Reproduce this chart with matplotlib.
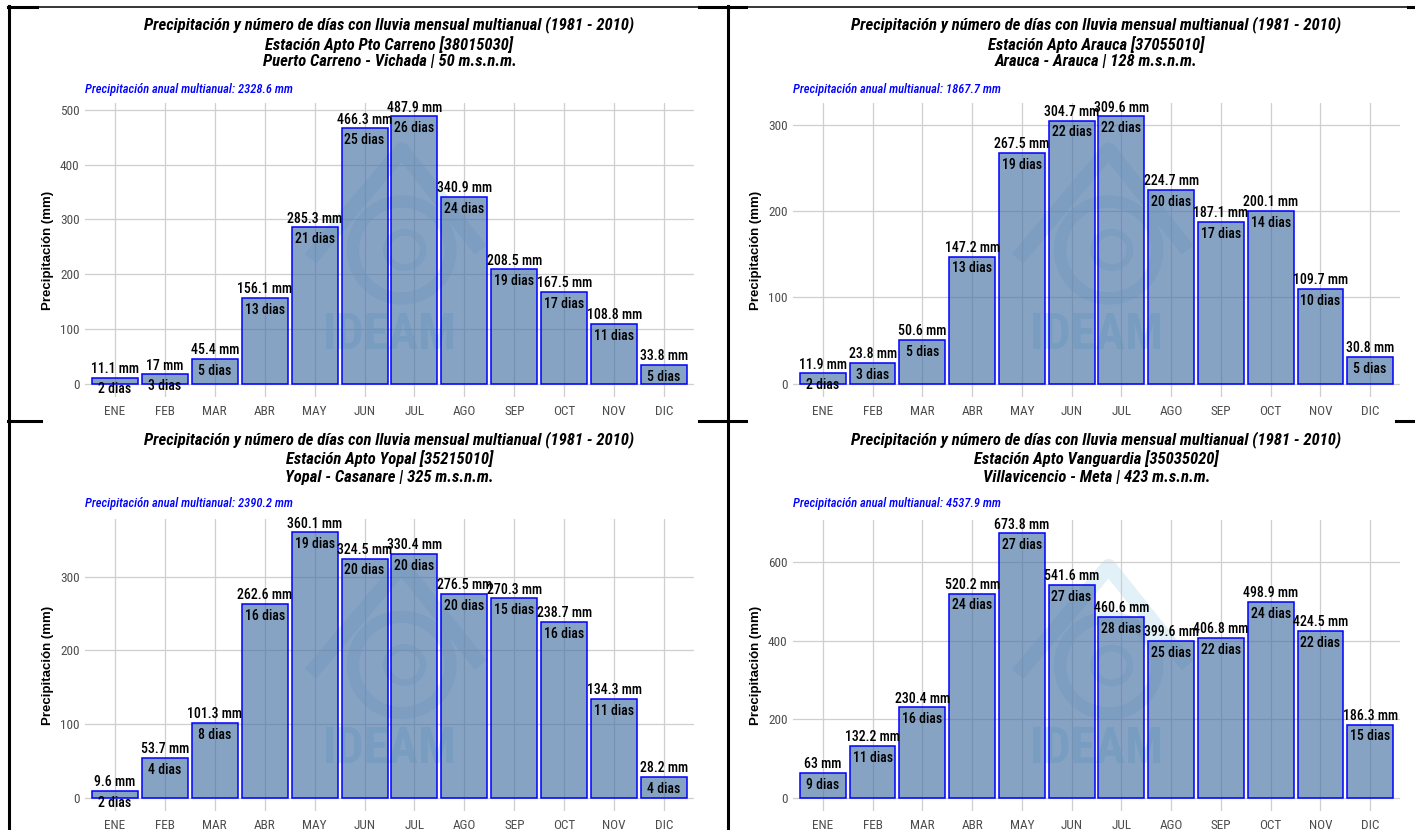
import numpy as np
import matplotlib
matplotlib.use("Agg")
from matplotlib import pyplot as plt
from matplotlib.lines import Line2D
from matplotlib.patches import Ellipse
from matplotlib.ticker import MultipleLocator
from matplotlib import font_manager

# Data
months = ['ENE', 'FEB', 'MAR', 'ABR', 'MAY', 'JUN', 'JUL', 'AGO', 'SEP', 'OCT', 'NOV', 'DIC']

carreno_mm = [11.1, 17, 45.4, 156.1, 285.3, 466.3, 487.9, 340.9, 208.5, 167.5, 108.8, 33.8]
carreno_dias = [2, 3, 5, 13, 21, 25, 26, 24, 19, 17, 11, 5]
arauca_mm = [11.9, 23.8, 50.6, 147.2, 267.5, 304.7, 309.6, 224.7, 187.1, 200.1, 109.7, 30.8]
arauca_dias = [2, 3, 5, 13, 19, 22, 22, 20, 17, 14, 10, 5]
yopal_mm = [9.6, 53.7, 101.3, 262.6, 360.1, 324.5, 330.4, 276.5, 270.3, 238.7, 134.3, 28.2]
yopal_dias = [2, 4, 8, 16, 19, 20, 20, 20, 15, 16, 11, 4]
vanguardia_mm = [63, 132.2, 230.4, 520.2, 673.8, 541.6, 460.6, 399.6, 406.8, 498.9, 424.5, 186.3]
vanguardia_dias = [9, 11, 16, 24, 27, 27, 28, 25, 22, 24, 22, 15]

titles = [
    ('Estación Apto Pto Carreno [38015030]', 'Puerto Carreno - Vichada | 50 m.s.n.m.'),
    ('Estación Apto Arauca [37055010]', 'Arauca - Arauca | 128 m.s.n.m.'),
    ('Estación Apto Yopal [35215010]', 'Yopal - Casanare | 325 m.s.n.m.'),
    ('Estación Apto Vanguardia [35035020]', 'Villavicencio - Meta | 423 m.s.n.m.'),
]
annual = [2328.6, 1867.7, 2390.2, 4537.9]
y_steps = [100, 100, 100, 200]
series_mm = [carreno_mm, arauca_mm, yopal_mm, vanguardia_mm]
series_dias = [carreno_dias, arauca_dias, yopal_dias, vanguardia_dias]

W, H = 1415, 830

# pick a condensed face if one is around, else plain Liberation Sans
installed = {f.name for f in font_manager.fontManager.ttflist}
condensed = [n for n in ['Liberation Sans Narrow', 'Roboto Condensed', 'Open Sans Condensed',
                         'Arial Narrow', 'DejaVu Sans Condensed'] if n in installed]
NARROW = condensed[:1] + ['Liberation Sans', 'DejaVu Sans']
have_narrow = bool(condensed)
fs_lab = 10 if have_narrow else 9.5
fs_title = 12 if have_narrow else 10.5
fs_tick = 9.5 if have_narrow else 9

main_title = 'Precipitación y número de días con lluvia mensual multianual (1981 - 2010)'

# panel boxes in pixels: left, right, top, bottom
boxes = [(85, 694, 103, 397), (793, 1400, 103, 397),
         (85, 694, 519, 811), (793, 1400, 520, 811)]
title_y = [(25, 45, 62, 89), (25, 45, 62, 89), (440, 459, 477, 503), (440, 459, 477, 503)]

fig = plt.figure(figsize=(W / 100, H / 100), dpi=100)


def draw_logo(ax):
    c = '#5ab4d6'
    ax.add_line(Line2D([0.37, 0.52, 0.65], [0.47, 0.84, 0.5], transform=ax.transAxes,
                       color=c, lw=11, alpha=0.18, zorder=0.2, solid_capstyle='butt'))
    ax.add_patch(Ellipse((0.52, 0.5), 0.16, 0.33, transform=ax.transAxes, facecolor='none',
                         edgecolor=c, lw=9, alpha=0.18, zorder=0.2))
    ax.add_patch(Ellipse((0.525, 0.5), 0.06, 0.12, transform=ax.transAxes, facecolor='none',
                         edgecolor=c, lw=5, alpha=0.18, zorder=0.2))
    ax.text(0.5, 0.21, 'IDEAM', transform=ax.transAxes, ha='center', va='center',
            fontsize=36, fontweight='bold', family=NARROW, color='#3fb8c9', alpha=0.22, zorder=0.2)


bar_fill = (71 / 255, 114 / 255, 165 / 255, 0.65)

for i in range(4):
    l, r, t, b = boxes[i]
    ax = fig.add_axes([l / W, 1 - b / H, (r - l) / W, (b - t) / H])
    mm = np.array(series_mm[i])
    dias = series_dias[i]
    x = np.arange(len(months))

    ax.bar(x, mm, width=0.92, facecolor=bar_fill, edgecolor='#0000ff',
           linewidth=1.1, zorder=2)
    for xi, v, d in zip(x, mm, dias):
        ax.annotate(f'{v:g} mm', (xi, v), xytext=(0, 1.2), textcoords='offset points',
                    ha='center', va='bottom', fontsize=fs_lab, fontweight='medium',
                    family=NARROW, color='black', zorder=3)
        ax.annotate(f'{d} dias', (xi, v), xytext=(0, -3.5), textcoords='offset points',
                    ha='center', va='top', fontsize=fs_lab, fontweight='medium',
                    family=NARROW, color='black', zorder=3)

    top = mm.max()
    ax.set_xlim(-0.6, len(months) - 0.4)
    ax.set_ylim(-0.05 * top, 1.05 * top)
    ax.yaxis.set_major_locator(MultipleLocator(y_steps[i]))
    ax.set_xticks(x)
    ax.set_xticklabels(months)
    for s in ax.spines.values():
        s.set_visible(False)
    ax.tick_params(length=0, labelsize=fs_tick, labelcolor='#4d4d4d', pad=6)
    ax.tick_params(axis='y', pad=4)
    for lab in ax.get_xticklabels() + ax.get_yticklabels():
        lab.set_family(NARROW)
    ax.grid(True, color='#cfcfcf', linewidth=0.9)
    ax.set_axisbelow(True)
    draw_logo(ax)

    cx = (l + r) / 2 / W
    y1, y2, y3, ys = title_y[i]
    for yy, txt in [(y1, main_title), (y2, titles[i][0]), (y3, titles[i][1])]:
        fig.text(cx, 1 - yy / H, txt, ha='center', va='center', fontsize=fs_title,
                 fontweight='bold', style='italic', family=NARROW)
    fig.text(l / W, 1 - ys / H, f'Precipitación anual multianual: {annual[i]} mm',
             ha='left', va='center', fontsize=9, fontweight='medium', style='italic',
             family=NARROW, color='#0000ff')
    fig.text((l - 37) / W, 1 - (t + b) / 2 / H, 'Precipitación (mm)', rotation=90,
             ha='center', va='center', fontsize=9.5, fontweight='bold', family='Liberation Sans')

# table-like border lines around the panels
def hline(y, x0, x1, lw):
    fig.add_artist(Line2D([x0 / W, x1 / W], [1 - y / H, 1 - y / H], color='black', lw=lw))


def vline(x, y0, y1, lw):
    fig.add_artist(Line2D([x / W, x / W], [1 - y0 / H, 1 - y1 / H], color='black', lw=lw))


hline(7, 8, 1415, 1.1)
hline(7, 8, 37, 2.2)
hline(7, 699, 746, 2.2)
hline(7, 1408, 1415, 2.2)
vline(9, 6, 830, 2.2)
vline(728, 6, 830, 2.2)
hline(421, 8, 41, 2.2)
hline(421, 699, 746, 2.2)
hline(421, 1396, 1415, 2.2)

fig.savefig('out.png', dpi=100)
